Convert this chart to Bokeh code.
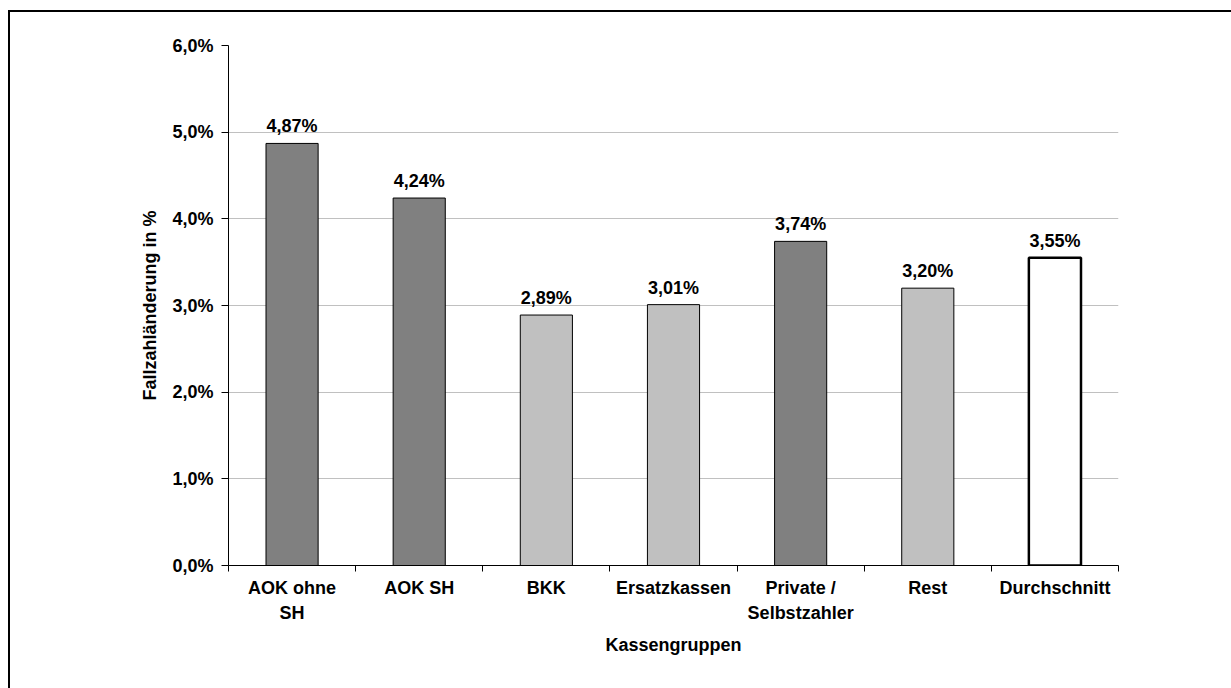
from bokeh.plotting import figure
from bokeh.models import Range1d, FixedTicker, LinearAxis, ColumnDataSource
from bokeh.core.properties import value
from bokeh.embed import file_html
from bokeh.resources import INLINE

categories = ["AOK ohne SH", "AOK SH", "BKK", "Ersatzkassen", "Private / Selbstzahler", "Rest", "Durchschnitt"]
label_line1 = ["AOK ohne", "AOK SH", "BKK", "Ersatzkassen", "Private /", "Rest", "Durchschnitt"]
label_line2 = ["SH", "", "", "", "Selbstzahler", "", ""]
values = [4.87, 4.24, 2.89, 3.01, 3.74, 3.20, 3.55]
colors = ["#808080", "#808080", "#C0C0C0", "#C0C0C0", "#808080", "#C0C0C0", "#FFFFFF"]
outline_widths = [1, 1, 1, 1, 1, 1, 2.5]
y_ticks = [0, 1, 2, 3, 4, 5, 6]
y_tick_labels = ["0,0%", "1,0%", "2,0%", "3,0%", "4,0%", "5,0%", "6,0%"]

FONT = "Liberation Sans"
FS = "18px"

n = len(categories)
xs = [i + 0.5 for i in range(n)]
src = ColumnDataSource(dict(
    x=xs, top=values, color=colors, lw=outline_widths,
    lab=[("%.2f%%" % v).replace(".", ",") for v in values],
))

W, H = 1231, 688
p = figure(width=W, height=H, output_backend="svg", toolbar_location=None,
           x_range=Range1d(0, n), y_range=Range1d(0, 6),
           min_border_left=228, min_border_right=W - 1118, min_border_top=45, min_border_bottom=H - 565)
p.outline_line_color = None
p.background_fill_color = "white"
p.border_fill_color = "white"

p.vbar(x="x", top="top", width=0.41, bottom=0, source=src, fill_color="color",
       line_color="black", line_width="lw")
p.text(x="x", y="top", text="lab", source=src, text_align="center", text_baseline="alphabetic",
       y_offset=-17, text_font=value(FONT), text_font_style="bold", text_font_size=FS, text_color="black")

# y axis
ya = p.yaxis[0]
ya.ticker = FixedTicker(ticks=y_ticks, minor_ticks=[])
ya.major_label_overrides = {t: l for t, l in zip(y_ticks, y_tick_labels)}
ya.major_label_text_font = FONT
ya.major_label_text_font_style = "bold"
ya.major_label_text_font_size = FS
ya.major_label_text_color = "black"
ya.major_tick_out = 7
ya.major_tick_in = 0
ya.minor_tick_out = 0
ya.minor_tick_in = 0
ya.axis_line_color = "black"
ya.major_tick_line_color = "black"
ya.major_label_standoff = 8
ya.axis_label = "Fallzahländerung in %"
ya.axis_label_text_font = FONT
ya.axis_label_text_font_style = "bold"
ya.axis_label_text_font_size = FS
ya.axis_label_text_color = "black"
ya.axis_label_standoff = 9

p.ygrid.ticker = FixedTicker(ticks=y_ticks[1:])
p.ygrid.grid_line_color = "#C0C0C0"
p.xgrid.grid_line_color = None

# x axis, first line of labels + boundary ticks
xa = p.xaxis[0]
xa.ticker = FixedTicker(ticks=xs, minor_ticks=list(range(n + 1)))
xa.major_label_overrides = {x: l for x, l in zip(xs, label_line1)}
xa.major_tick_out = 0
xa.major_tick_in = 0
xa.minor_tick_out = 6
xa.minor_tick_in = 0
xa.minor_tick_line_color = "black"
xa.axis_line_color = "black"
xa.major_label_standoff = 6
xa.major_label_text_font = FONT
xa.major_label_text_font_style = "bold"
xa.major_label_text_font_size = FS
xa.major_label_text_color = "black"

# second line of labels
xa2 = LinearAxis(ticker=FixedTicker(ticks=xs, minor_ticks=[]))
xa2.major_label_overrides = {x: l for x, l in zip(xs, label_line2)}
xa2.axis_line_color = None
xa2.major_tick_line_color = None
xa2.major_tick_out = 0
xa2.major_tick_in = 0
xa2.minor_tick_out = 0
xa2.minor_tick_in = 0
xa2.major_label_standoff = 2
xa2.major_label_text_font = FONT
xa2.major_label_text_font_style = "bold"
xa2.major_label_text_font_size = FS
xa2.major_label_text_color = "black"
xa2.axis_label = "Kassengruppen"
xa2.axis_label_text_font = FONT
xa2.axis_label_text_font_style = "bold"
xa2.axis_label_text_font_size = FS
xa2.axis_label_text_color = "black"
xa2.axis_label_standoff = 9
p.add_layout(xa2, "below")

html = file_html(p, INLINE)
frame_div = ('<div style="position:fixed; left:8px; top:10px; width:3000px; height:3000px; '
             'border-left:2px solid black; border-top:2px solid black; pointer-events:none; '
             'z-index:1000;"></div>')
html = html.replace("</head>", "<style>html, body { overflow: hidden; }</style></head>", 1)
html = html.replace("</body>", frame_div + "</body>", 1)
open("out.html", "w").write(html)
